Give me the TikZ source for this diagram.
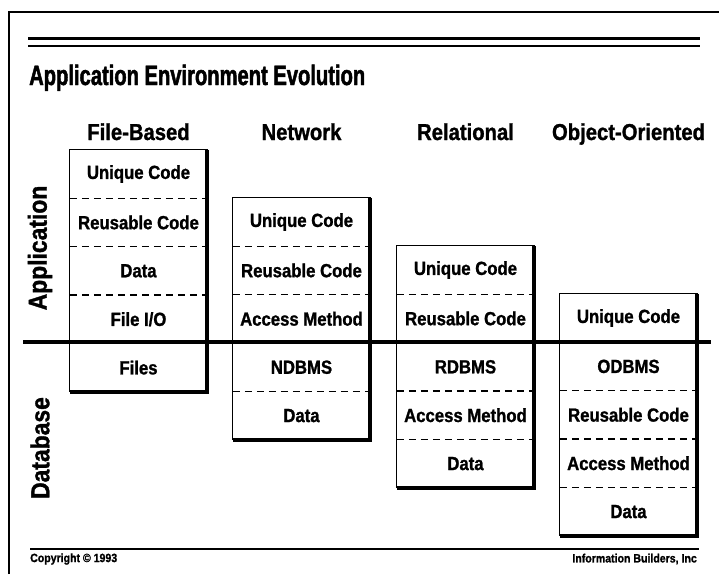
\documentclass[tikz,border=0pt]{standalone}
\usepackage{fontspec}
\setmainfont{Liberation Sans}
\newfontfamily\narrowsans[FakeStretch=0.88, BoldFeatures={FakeBold=1.2}]{Liberation Sans}
\newfontfamily\titlesans[FakeStretch=0.72, BoldFeatures={FakeBold=1.6}]{Liberation Sans}
\usetikzlibrary{positioning}
\tikzset{layer cell/.style={minimum width=137pt, minimum height=48pt, inner sep=0pt, font=\narrowsans\bfseries\fontsize{19}{21}\selectfont}}
\tikzset{cell sep/.style={dash pattern=on 7pt off 5pt, line width=1.4pt}}
\tikzset{col box/.style={draw=black, line width=0.9pt}}
\tikzset{col shadow/.style={line width=3.5pt}}
\tikzset{col head/.style={anchor=base, inner sep=0pt, font=\narrowsans\bfseries\fontsize{23}{26}\selectfont}}
\tikzset{side label/.style={rotate=90, font=\narrowsans\bfseries\fontsize{26}{29}\selectfont}}
\tikzset{foot label/.style={font=\narrowsans\bfseries\fontsize{12}{13}\selectfont, inner sep=0pt}}

\begin{document}
\begin{tikzpicture}[x=1pt,y=-1pt]
	\useasboundingbox (0,0) rectangle (719,574);

	% page frame and rules
	\draw[line width=1.2pt] (9,574) -- (9,12) -- (719,12);
	\draw[line width=3pt] (28,38) -- (700,38);
	\draw[line width=2.5pt] (28,46) -- (700,46);
	\node[font=\titlesans\bfseries\fontsize{28}{32}\selectfont, anchor=base west, inner sep=0pt] (title) at (29,85) {Application Environment Evolution};

	% file-based
	\node[col head] (hfb) at (138.5,140) {File-Based};
	\node[layer cell] (fb1) at (138.5,174) {Unique Code};
	\node[layer cell, below=0pt of fb1] (fb2) {Reusable Code};
	\node[layer cell, below=0pt of fb2] (fb3) {Data};
	\node[layer cell, below=0pt of fb3] (fb4) {File I/O};
	\node[layer cell, below=0pt of fb4] (fb5) {Files};

	% network
	\node[col head] (hnw) at (301.5,140) {Network};
	\node[layer cell] (nw1) at (301.5,222) {Unique Code};
	\node[layer cell, below=0pt of nw1] (nw2) {Reusable Code};
	\node[layer cell, below=0pt of nw2] (nw3) {Access Method};
	\node[layer cell, below=0pt of nw3] (nw4) {NDBMS};
	\node[layer cell, below=0pt of nw4] (nw5) {Data};

	% relational
	\node[col head] (hrl) at (465.5,140) {Relational};
	\node[layer cell] (rl1) at (465.5,270) {Unique Code};
	\node[layer cell, below=0pt of rl1] (rl2) {Reusable Code};
	\node[layer cell, below=0pt of rl2] (rl3) {RDBMS};
	\node[layer cell, below=0pt of rl3] (rl4) {Access Method};
	\node[layer cell, below=0pt of rl4] (rl5) {Data};

	% object-oriented
	\node[col head] (hoo) at (628.5,140) {Object-Oriented};
	\node[layer cell] (oo1) at (628.5,318) {Unique Code};
	\node[layer cell, below=0pt of oo1] (oo2) {ODBMS};
	\node[layer cell, below=0pt of oo2] (oo3) {Reusable Code};
	\node[layer cell, below=0pt of oo3] (oo4) {Access Method};
	\node[layer cell, below=0pt of oo4] (oo5) {Data};

	% boxes with shadow edges
	\foreach \c in {fb,nw,rl,oo}{
		\draw[col box] (\c1.north west) rectangle (\c5.south east);
		\draw[col shadow] (\c1.north east) -- (\c5.south east) -- (\c5.south west);
	}

	% dashed separators
	\foreach \n in {fb1,fb2,fb3,nw1,nw2,nw4,rl1,rl3,rl4,oo2,oo3,oo4}
		\draw[cell sep] (\n.south west) -- (\n.south east);

	% application / database split
	\coordinate (splitL) at (23,342);
	\coordinate (splitR) at (711,342);
	\draw[line width=4pt] (splitL) -- (splitR);

	\node[side label] (app) at (40,248) {Application};
	\node[side label] (db) at (40,448) {Database};

	% footer
	\draw[line width=2pt] (30,549) -- (699,549);
	\node[foot label, anchor=west] (copy) at (30,559) {Copyright © 1993};
	\node[foot label, anchor=east] (ibi) at (697,559) {Information Builders, Inc};
\end{tikzpicture}
\end{document}
